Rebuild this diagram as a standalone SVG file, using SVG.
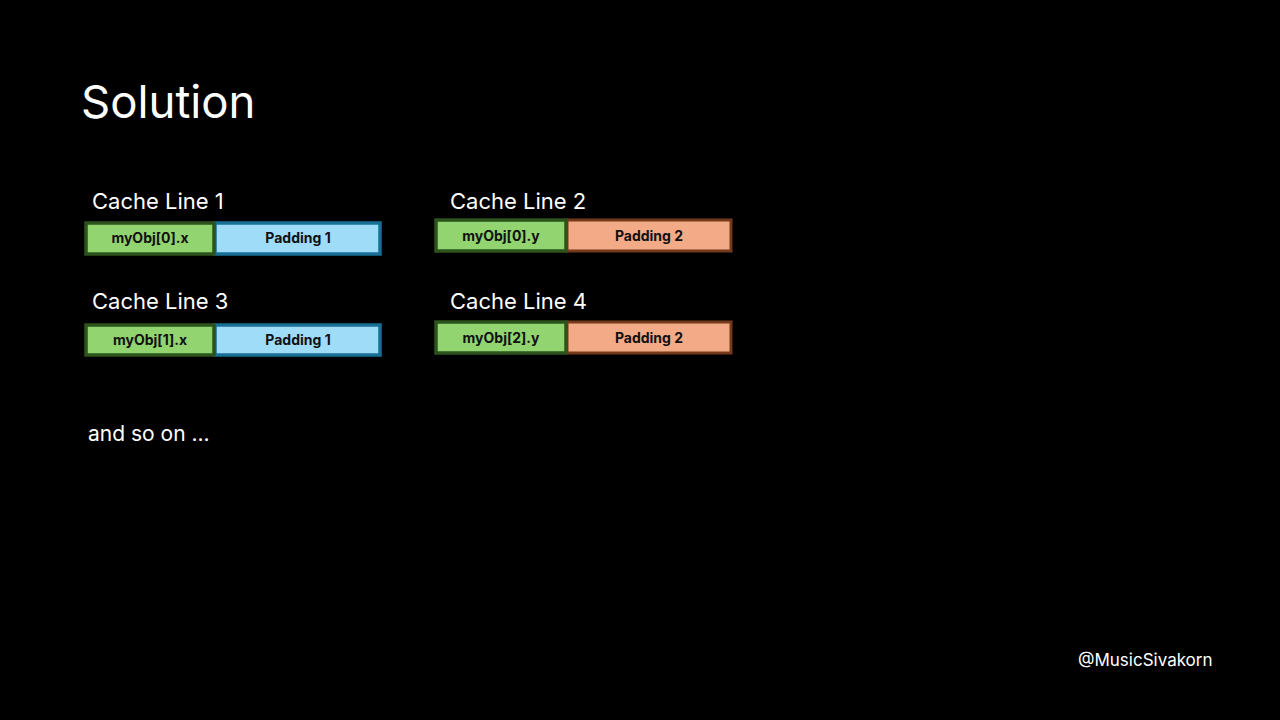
<svg xmlns="http://www.w3.org/2000/svg" width="1280" height="720" viewBox="0 0 1280 720">
<style>
text{font-family:Inter,"Open Sans","Liberation Sans",sans-serif;fill:#fff}
.h{font-size:22px}
.b{font-size:14px;font-weight:bold;fill:#111;text-anchor:middle}
.g{fill:#92d46f;stroke:#2b531b;stroke-width:3.5}
.bl{fill:#9fdcf8;stroke:#176f96;stroke-width:3.5}
.o{fill:#f2ab86;stroke:#74391a;stroke-width:3}
</style>
<rect width="1280" height="720" fill="#000"/>
<text x="81" y="118" style="font-size:45.5px">Solution</text>
<g id="cl1">
<text class="h" x="92" y="209">Cache Line 1</text>
<rect class="bl" x="215" y="223" width="165" height="31"/>
<rect class="g" x="86" y="223" width="128" height="31"/>
<text class="b" x="150" y="243">myObj[0].x</text>
<text class="b" x="298" y="243">Padding 1</text>
</g>
<g id="cl2">
<text class="h" x="450" y="209">Cache Line 2</text>
<rect class="o" x="567" y="220" width="164" height="31"/>
<rect class="g" x="436" y="220" width="130" height="31"/>
<text class="b" x="501" y="241">myObj[0].y</text>
<text class="b" x="649" y="241">Padding 2</text>
</g>
<g id="cl3">
<text class="h" x="92" y="309">Cache Line 3</text>
<rect class="bl" x="215" y="325" width="165" height="30"/>
<rect class="g" x="86" y="325" width="128" height="30"/>
<text class="b" x="150" y="345">myObj[1].x</text>
<text class="b" x="298" y="345">Padding 1</text>
</g>
<g id="cl4">
<text class="h" x="450" y="309">Cache Line 4</text>
<rect class="o" x="567" y="322" width="164" height="31"/>
<rect class="g" x="436" y="322" width="130" height="31"/>
<text class="b" x="501" y="343">myObj[2].y</text>
<text class="b" x="649" y="343">Padding 2</text>
</g>
<text x="88" y="441" style="font-size:21px">and so on ...</text>
<text x="1078" y="666" style="font-size:17px">@MusicSivakorn</text>
<g id="connectors"/>
</svg>
